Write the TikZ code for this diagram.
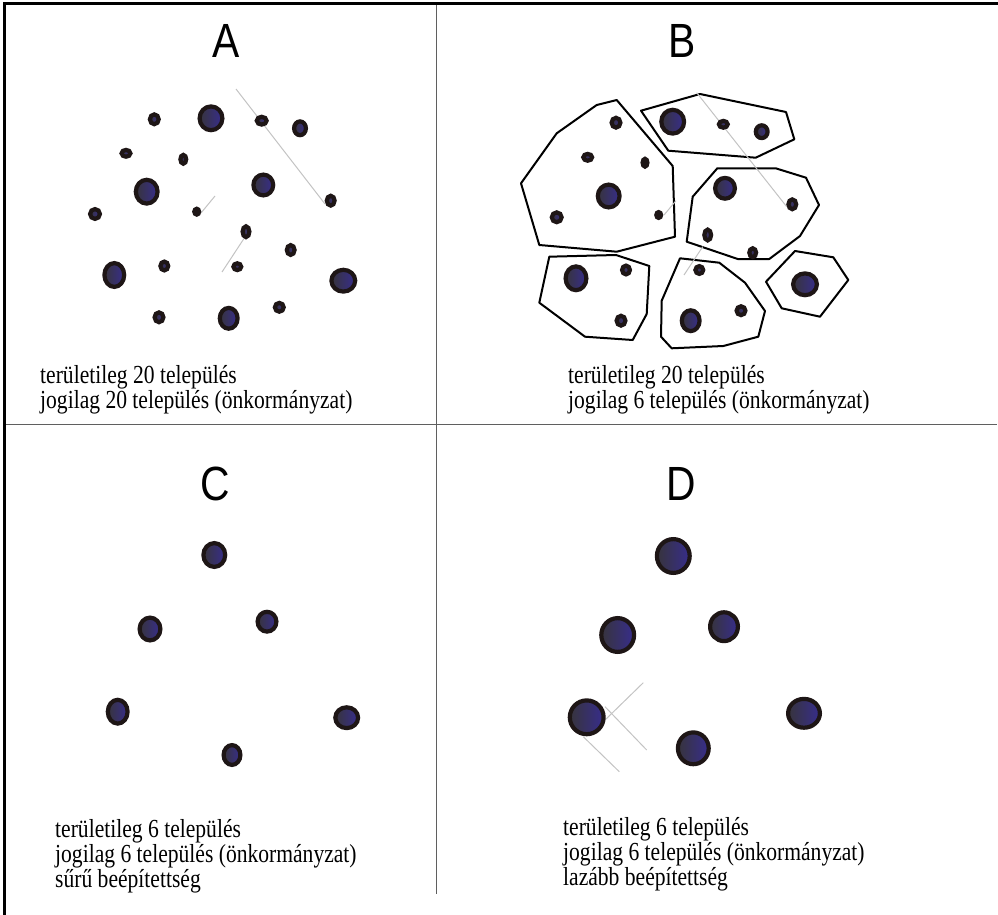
\documentclass[tikz,border=0pt]{standalone}
\usepackage{fontspec}
\setmainfont{Liberation Serif}
\newfontfamily\txtfont[FakeStretch=0.83]{Liberation Serif}
\newfontfamily\letterfont[FakeStretch=0.85]{Liberation Sans}
\usetikzlibrary{shapes.geometric}
\definecolor{dotblue}{RGB}{55,45,140}
\definecolor{dotgray}{RGB}{55,52,60}
\definecolor{dotmid}{RGB}{100,96,125}
\definecolor{framegray}{RGB}{95,95,95}
\definecolor{thingray}{RGB}{195,195,195}
\tikzset{
  dotnode/.style={ellipse, draw={rgb,255:red,30;green,22;blue,22}, line width=4.2pt, inner sep=0pt,
    left color=dotgray, middle color=dotmid, right color=dotblue},
  region/.style={draw=black, line width=2pt, line join=round},
  faint/.style={draw=thingray, line width=1pt},
  frame/.style={draw=black, line width=3pt},
  divider/.style={draw=framegray, line width=1.8pt},
  caption/.style={anchor=north west, inner sep=0pt, align=left, font=\txtfont\fontsize{26}{25}\selectfont},
  letter/.style={anchor=base, inner sep=0pt, font=\letterfont\fontsize{48}{50}\selectfont}
}
\newcommand{\settl}[5]{\node[dotnode, minimum width=#4*2pt-4.2pt, minimum height=#5*2pt-4.2pt] (#1) at (#2,#3) {};}
\begin{document}
\begin{tikzpicture}[x=1pt,y=-1pt]
\useasboundingbox (0,0) rectangle (998,915);
% frame
\coordinate (tl) at (4,4);
\coordinate (tr) at (998,4);
\coordinate (bl) at (4,915);
\coordinate (vt) at (436.5,4);
\coordinate (vb) at (436.5,894);
\coordinate (hl) at (4,424.5);
\coordinate (hr) at (997,424.5);
\draw[divider] (vt) -- (vb);
\draw[divider] (hl) -- (hr);
\draw[frame] (tr) -- (tl) -- (bl);

% letters
\node[letter] (la) at (226,58) {A};
\node[letter] (lb) at (682,58) {B};
\node[letter] (lc) at (215,500) {C};
\node[letter] (ld) at (681,500) {D};

% ---------- Panel A ----------
\coordinate (ga1) at (236,89); \coordinate (ga2) at (325,204);
\draw[faint] (ga1) -- (ga2);
\coordinate (ga3) at (201,213); \coordinate (ga4) at (215,196);
\draw[faint] (ga3) -- (ga4);
\coordinate (ga5) at (222,272); \coordinate (ga6) at (245,237);
\draw[faint] (ga5) -- (ga6);
\settl{a1}{154.3}{119.3}{6.5}{7}
\settl{a2}{211}{118.3}{13.5}{14}
\settl{a3}{261.7}{120.7}{7}{6}
\settl{a4}{300}{128.3}{8}{9}
\settl{a5}{126}{153.3}{6.5}{5.5}
\settl{a6}{183.3}{159.3}{5}{6.5}
\settl{a7}{146.7}{191.7}{13}{14}
\settl{a8}{263.3}{185}{12}{12.5}
\settl{a9}{330.7}{200.7}{6}{7}
\settl{a10}{95}{214}{7}{7}
\settl{a11}{196.7}{211.7}{4.5}{5}
\settl{a12}{246}{231.7}{5.5}{7.5}
\settl{a13}{290.7}{250}{6}{7}
\settl{a14}{114.3}{275}{12}{14}
\settl{a15}{164.3}{266}{6}{6.5}
\settl{a16}{237.3}{266.7}{6}{5.5}
\settl{a17}{343.3}{280.7}{14}{13}
\settl{a18}{159}{317.3}{6.5}{7}
\settl{a19}{228.7}{318.3}{11}{12.5}
\settl{a20}{279.3}{307.3}{6.5}{6.5}
\node[caption] (ta) at (40,365) {területileg 20 település\\jogilag 20 település (önkormányzat)};

% ---------- Panel B ----------
\draw[region] (521,183.3) -- (556.7,133.3) -- (596.7,105) -- (616.7,100) -- (672.7,166) -- (675,236.7) -- (616.7,251.7) -- (539.3,245) -- cycle;
\draw[region] (641,110.7) -- (700,94) -- (786,112) -- (794.3,139.3) -- (755.7,157.7) -- (668.3,150.7) -- cycle;
\draw[region] (692.7,196.7) -- (717.3,168.3) -- (775.7,168.3) -- (806,177.7) -- (819,205) -- (800,236) -- (769.3,259) -- (737.7,259) -- (686.7,241.7) -- cycle;
\draw[region] (549.3,256.7) -- (616,255) -- (649.3,266) -- (646.7,314) -- (632.7,340) -- (585,336.7) -- (539.3,302.7) -- cycle;
\draw[region] (680,258.3) -- (719.3,262.7) -- (745,282.7) -- (765,311) -- (758.3,336.7) -- (723.3,346) -- (671.7,348.3) -- (661,336.7) -- (661.7,300.7) -- cycle;
\draw[region] (766,281.7) -- (795,251) -- (833.3,257.3) -- (848.3,280) -- (820,316.7) -- (781.7,308.3) -- cycle;
\coordinate (gb1) at (696.7,92.7); \coordinate (gb2) at (786.7,206.7);
\draw[faint] (gb1) -- (gb2);
\coordinate (gb3) at (664,215); \coordinate (gb4) at (676,200.7);
\draw[faint] (gb3) -- (gb4);
\coordinate (gb5) at (684,275); \coordinate (gb6) at (702.7,246.7);
\draw[faint] (gb5) -- (gb6);
\settl{b1}{616}{122.7}{6.5}{7}
\settl{b2}{587.7}{157.3}{6.5}{5.5}
\settl{b3}{645}{162.7}{4.5}{6}
\settl{b4}{608.7}{196}{13}{13.5}
\settl{b5}{556.7}{217.3}{7}{7}
\settl{b6}{658.7}{215}{4.5}{5}
\settl{b7}{672.7}{121.7}{13.5}{14}
\settl{b8}{723.3}{124.3}{6.5}{5.5}
\settl{b9}{761.7}{131.7}{8}{8.5}
\settl{b10}{725}{188.3}{12}{12.5}
\settl{b11}{792.3}{204.3}{6}{7}
\settl{b12}{707.7}{235}{5.5}{7.5}
\settl{b13}{752.7}{252.7}{5.5}{6.5}
\settl{b14}{576}{278.3}{12.5}{14}
\settl{b15}{626}{270}{6}{6.5}
\settl{b16}{621}{320.7}{6.5}{7}
\settl{b17}{699.3}{270}{6}{6}
\settl{b18}{690.7}{320.7}{11}{12.5}
\settl{b19}{741}{310.7}{6.5}{6.5}
\settl{b20}{805}{284.3}{14}{13}
\node[caption] (tb) at (568,365) {területileg 20 település\\jogilag 6 település (önkormányzat)};

% ---------- Panel C ----------
\settl{c1}{214.3}{555}{13}{14}
\settl{c2}{150}{629}{12.5}{13.5}
\settl{c3}{267}{621.7}{11.5}{12}
\settl{c4}{117.7}{711.7}{12}{14}
\settl{c5}{346.7}{717.7}{13.5}{12.5}
\settl{c6}{232}{755}{10.5}{12}
\node[caption] (tc) at (55,819) {területileg 6 település\\jogilag 6 település (önkormányzat)\\sűrű beépítettség};

% ---------- Panel D ----------
\coordinate (gd1) at (643.3,682.7); \coordinate (gd2) at (605,720);
\draw[faint] (gd1) -- (gd2);
\coordinate (gd3) at (605,706.7); \coordinate (gd4) at (646.7,750);
\draw[faint] (gd3) -- (gd4);
\coordinate (gd5) at (583.3,736.7); \coordinate (gd6) at (619.3,771.7);
\draw[faint] (gd5) -- (gd6);
\settl{d1}{673.3}{556}{18.5}{19}
\settl{d2}{617.7}{635}{18.5}{19}
\settl{d3}{724}{626.7}{16}{16.5}
\settl{d4}{586.7}{717.3}{19}{19}
\settl{d5}{804}{713.3}{18}{16.5}
\settl{d6}{693.3}{748.3}{17.5}{18}
\node[caption] (td) at (563,817) {területileg 6 település\\jogilag 6 település (önkormányzat)\\lazább beépítettség};
\end{tikzpicture}
\end{document}
